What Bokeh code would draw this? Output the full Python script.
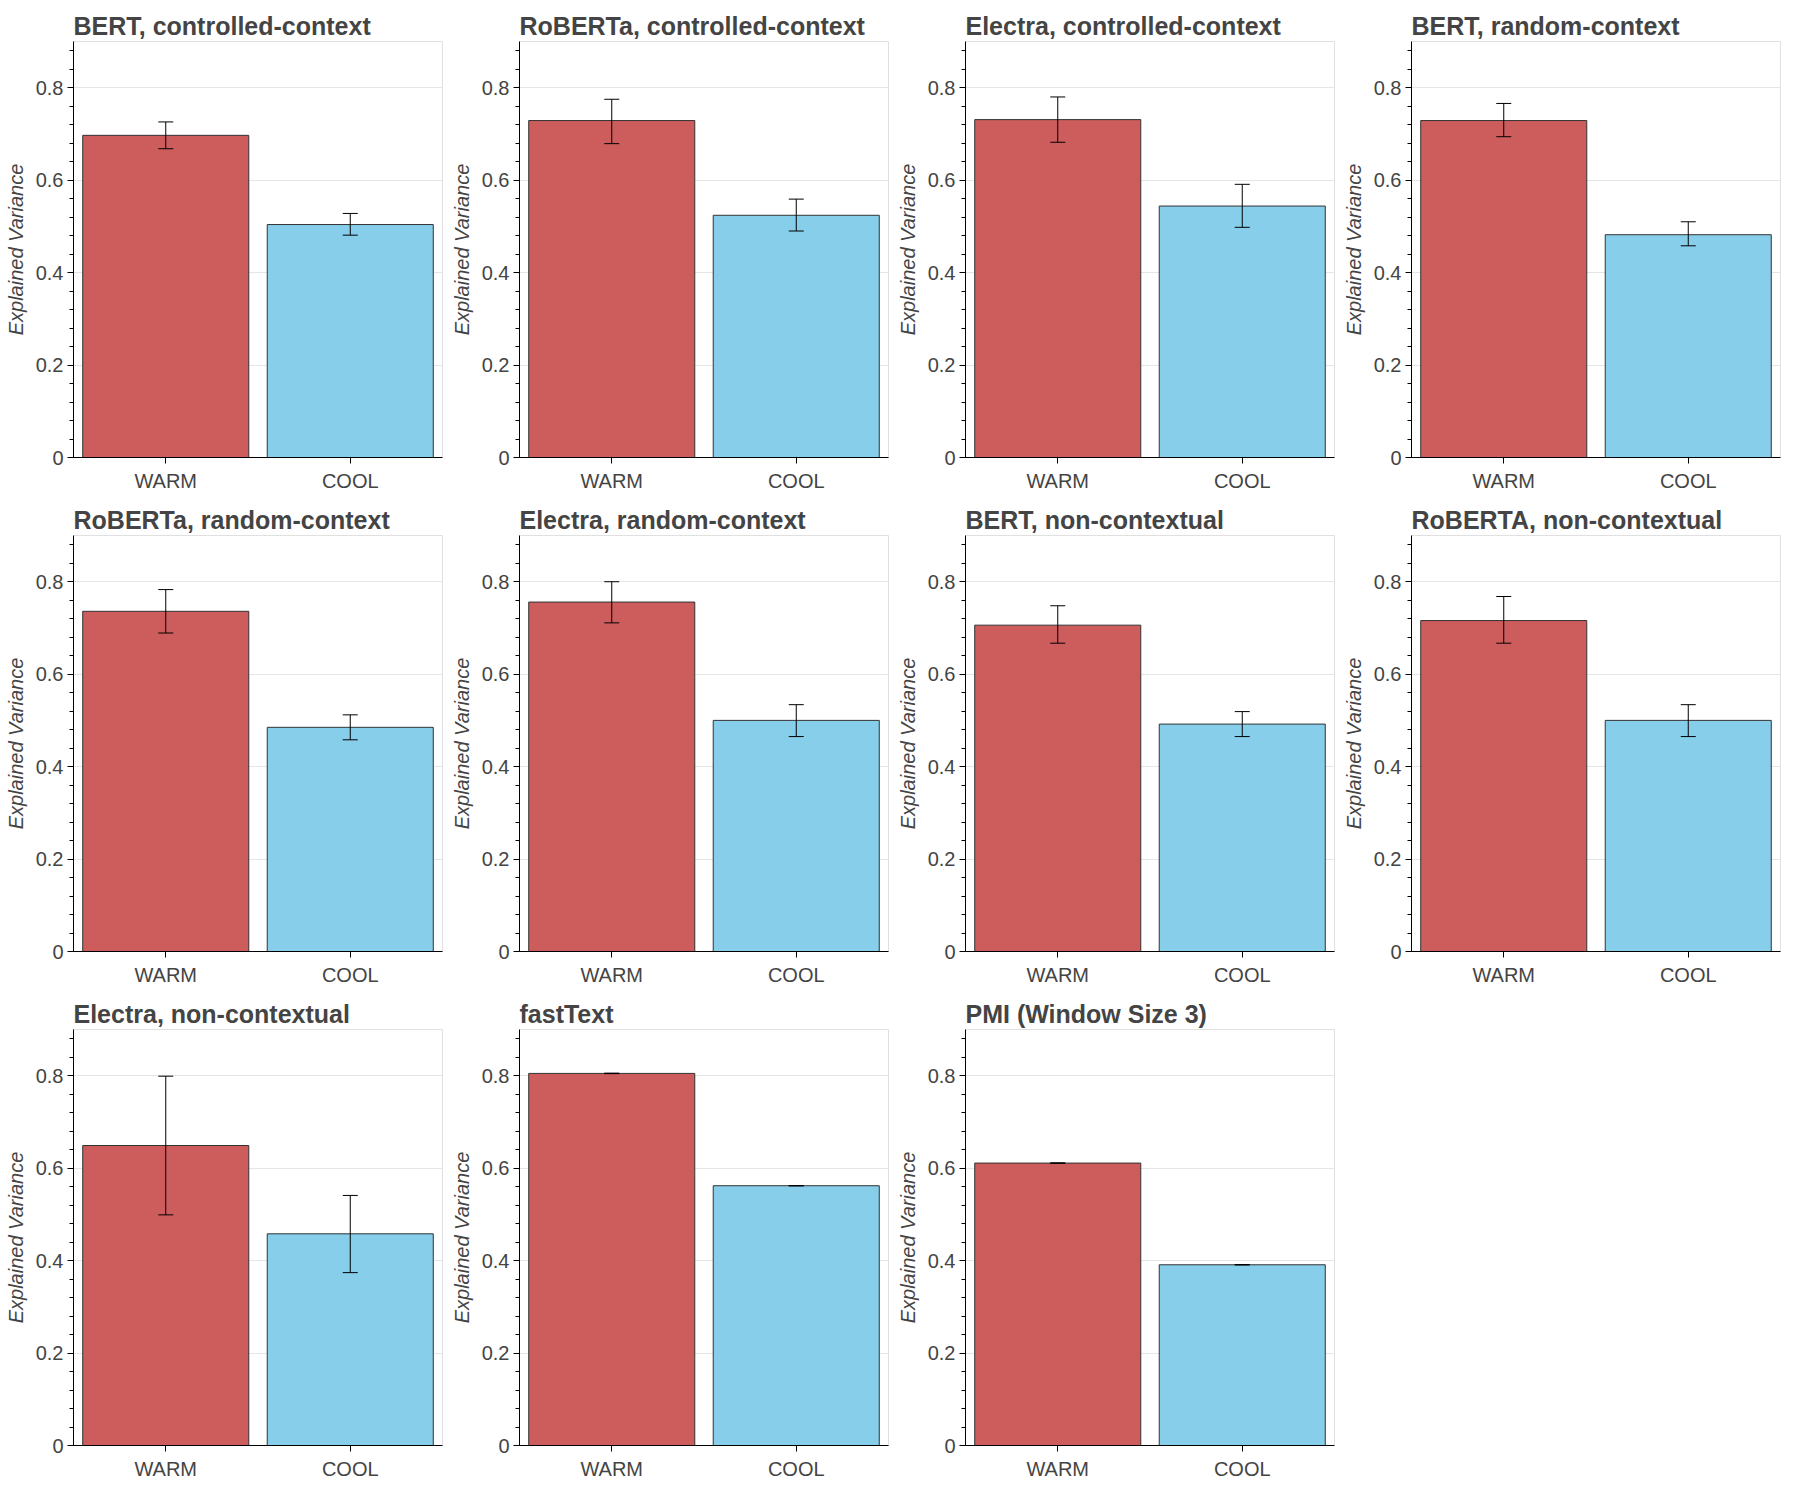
from bokeh.plotting import figure
from bokeh.layouts import gridplot
from bokeh.models import (ColumnDataSource, Whisker, TeeHead, SingleIntervalTicker,
                          CustomJSTickFormatter, FactorRange, Range1d)
from bokeh.embed import file_html
from bokeh.resources import INLINE

titles = [
    "BERT, controlled-context", "RoBERTa, controlled-context", "Electra, controlled-context",
    "BERT, random-context", "RoBERTa, random-context", "Electra, random-context",
    "BERT, non-contextual", "RoBERTA, non-contextual", "Electra, non-contextual",
    "fastText", "PMI (Window Size 3)",
]
categories = ["WARM", "COOL"]

warm_mean = [0.697, 0.729, 0.731, 0.729, 0.736, 0.756, 0.706, 0.716, 0.649, 0.805, 0.611]
warm_lower = [0.668, 0.679, 0.682, 0.694, 0.689, 0.711, 0.667, 0.667, 0.499, 0.8045, 0.6105]
warm_upper = [0.726, 0.775, 0.780, 0.766, 0.783, 0.800, 0.748, 0.768, 0.799, 0.8055, 0.6115]

cool_mean = [0.504, 0.524, 0.544, 0.482, 0.485, 0.500, 0.492, 0.500, 0.458, 0.562, 0.391]
cool_lower = [0.481, 0.490, 0.498, 0.458, 0.458, 0.465, 0.465, 0.465, 0.374, 0.5615, 0.3905]
cool_upper = [0.528, 0.559, 0.591, 0.510, 0.512, 0.534, 0.519, 0.534, 0.541, 0.5625, 0.3915]

bar_colors = ["#CD5C5C", "#87CEEB"]

FONT = "Liberation Sans"
TXT = "#444444"

figs = []
for i, t in enumerate(titles):
    src = ColumnDataSource(dict(
        cat=categories,
        val=[warm_mean[i], cool_mean[i]],
        lo=[warm_lower[i], cool_lower[i]],
        hi=[warm_upper[i], cool_upper[i]],
        color=bar_colors,
    ))
    p = figure(x_range=FactorRange(*categories, range_padding=0), y_range=Range1d(0, 0.9),
               width=446, height=494, output_backend="svg", toolbar_location=None,
               title=t, min_border_left=73, min_border_right=4, min_border_top=41,
               min_border_bottom=37)
    p.vbar(x="cat", top="val", width=0.9, source=src, fill_color="color",
           line_color="#333333", line_width=1)
    w = Whisker(source=src, base="cat", upper="hi", lower="lo", line_color="black",
                line_width=1, level="overlay",
                upper_head=TeeHead(size=15, line_color="black", line_width=1),
                lower_head=TeeHead(size=15, line_color="black", line_width=1))
    p.add_layout(w)

    p.title.text_font = FONT
    p.title.text_font_size = "25px"
    p.title.text_font_style = "bold"
    p.title.text_color = TXT
    p.title.standoff = 4

    p.yaxis.ticker = SingleIntervalTicker(interval=0.2, num_minor_ticks=5)
    p.yaxis.formatter = CustomJSTickFormatter(code="return tick == 0 ? '0' : tick.toFixed(1);")
    p.yaxis.axis_label = "Explained Variance"
    p.yaxis.axis_label_text_font = FONT
    p.yaxis.axis_label_text_font_size = "20px"
    p.yaxis.axis_label_text_font_style = "italic"
    p.yaxis.axis_label_text_color = TXT
    p.yaxis.axis_label_standoff = 6
    p.yaxis.major_tick_out = 6
    p.yaxis.major_tick_in = 0
    p.yaxis.minor_tick_out = 4
    p.yaxis.minor_tick_in = 0
    p.yaxis.major_label_standoff = 4

    p.xaxis.major_tick_out = 6
    p.xaxis.major_tick_in = 0
    p.xaxis.minor_tick_out = 0
    p.xaxis.major_label_standoff = 6

    for ax in (p.xaxis, p.yaxis):
        ax.major_label_text_font = FONT
        ax.major_label_text_font_size = "20px"
        ax.major_label_text_color = TXT
        ax.axis_line_color = "black"
        ax.major_tick_line_color = "black"
        ax.minor_tick_line_color = "black"

    p.xgrid.grid_line_color = None
    p.ygrid.grid_line_color = "#e5e5e5"
    p.outline_line_color = "#e0e0e0"
    p.background_fill_color = "white"
    p.border_fill_color = "white"
    figs.append(p)

grid = gridplot([figs[0:4], figs[4:8], figs[8:11] + [None]], toolbar_location=None)

open("out.html", "w").write(file_html(grid, INLINE))
